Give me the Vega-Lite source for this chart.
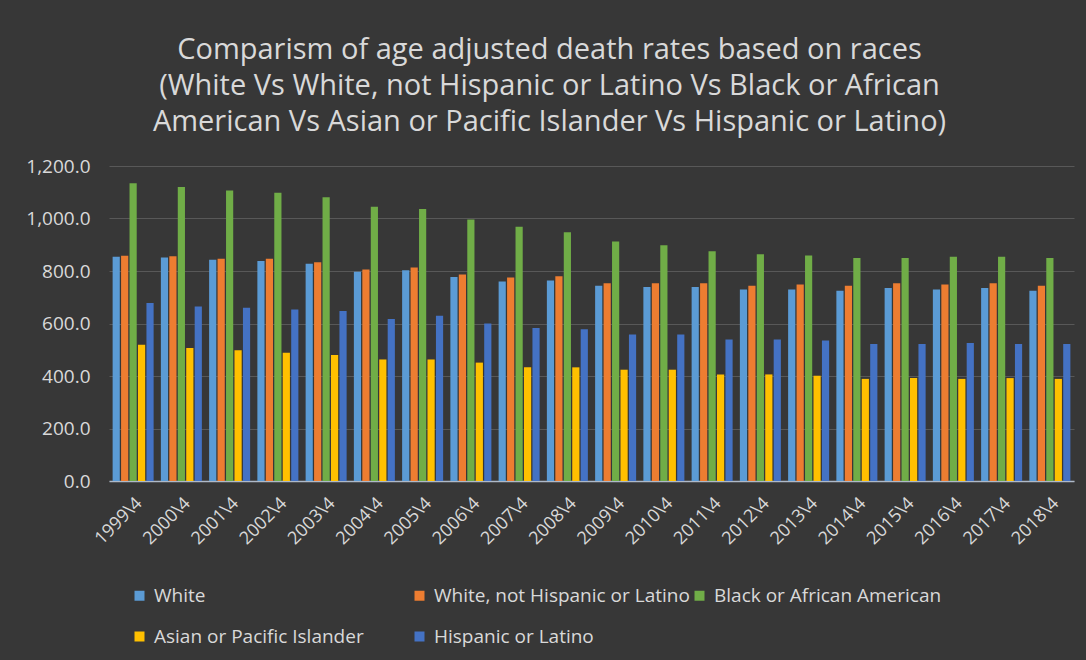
{
  "$schema": "https://vega.github.io/schema/vega-lite/v6.json",
  "width": 965,
  "height": 315,
  "autosize": {"type": "none"},
  "padding": {"left": 109, "top": 166, "right": 12, "bottom": 179},
  "background": "#373737",
  "title": {
    "text": ["Comparism of age adjusted death rates based on races", "(White Vs White, not Hispanic or Latino Vs Black or African", "American Vs Asian or Pacific Islander Vs Hispanic or Latino)"],
    "color": "#D9D9D9",
    "font": "Open Sans",
    "fontSize": 29,
    "fontWeight": "normal",
    "lineHeight": 36,
    "anchor": "middle",
    "dx": -42,
    "offset": 20
  },
  "config": {
    "view": {"stroke": null},
    "font": "Open Sans"
  },
  "data": {
    "values": [
      {"year": "1999\\4", "race": "White", "rate": 854},
      {"year": "1999\\4", "race": "White, not Hispanic or Latino", "rate": 858},
      {"year": "1999\\4", "race": "Black or African American", "rate": 1134},
      {"year": "1999\\4", "race": "Asian or Pacific Islander", "rate": 519},
      {"year": "1999\\4", "race": "Hispanic or Latino", "rate": 678},
      {"year": "2000\\4", "race": "White", "rate": 851},
      {"year": "2000\\4", "race": "White, not Hispanic or Latino", "rate": 856},
      {"year": "2000\\4", "race": "Black or African American", "rate": 1120},
      {"year": "2000\\4", "race": "Asian or Pacific Islander", "rate": 507},
      {"year": "2000\\4", "race": "Hispanic or Latino", "rate": 665},
      {"year": "2001\\4", "race": "White", "rate": 843},
      {"year": "2001\\4", "race": "White, not Hispanic or Latino", "rate": 847},
      {"year": "2001\\4", "race": "Black or African American", "rate": 1107},
      {"year": "2001\\4", "race": "Asian or Pacific Islander", "rate": 498},
      {"year": "2001\\4", "race": "Hispanic or Latino", "rate": 660},
      {"year": "2002\\4", "race": "White", "rate": 838},
      {"year": "2002\\4", "race": "White, not Hispanic or Latino", "rate": 847},
      {"year": "2002\\4", "race": "Black or African American", "rate": 1098},
      {"year": "2002\\4", "race": "Asian or Pacific Islander", "rate": 489},
      {"year": "2002\\4", "race": "Hispanic or Latino", "rate": 653},
      {"year": "2003\\4", "race": "White", "rate": 828},
      {"year": "2003\\4", "race": "White, not Hispanic or Latino", "rate": 833},
      {"year": "2003\\4", "race": "Black or African American", "rate": 1081},
      {"year": "2003\\4", "race": "Asian or Pacific Islander", "rate": 480},
      {"year": "2003\\4", "race": "Hispanic or Latino", "rate": 648},
      {"year": "2004\\4", "race": "White", "rate": 797},
      {"year": "2004\\4", "race": "White, not Hispanic or Latino", "rate": 806},
      {"year": "2004\\4", "race": "Black or African American", "rate": 1045},
      {"year": "2004\\4", "race": "Asian or Pacific Islander", "rate": 463},
      {"year": "2004\\4", "race": "Hispanic or Latino", "rate": 617},
      {"year": "2005\\4", "race": "White", "rate": 803},
      {"year": "2005\\4", "race": "White, not Hispanic or Latino", "rate": 813},
      {"year": "2005\\4", "race": "Black or African American", "rate": 1036},
      {"year": "2005\\4", "race": "Asian or Pacific Islander", "rate": 463},
      {"year": "2005\\4", "race": "Hispanic or Latino", "rate": 630},
      {"year": "2006\\4", "race": "White", "rate": 777},
      {"year": "2006\\4", "race": "White, not Hispanic or Latino", "rate": 787},
      {"year": "2006\\4", "race": "Black or African American", "rate": 996},
      {"year": "2006\\4", "race": "Asian or Pacific Islander", "rate": 451},
      {"year": "2006\\4", "race": "Hispanic or Latino", "rate": 600},
      {"year": "2007\\4", "race": "White", "rate": 760},
      {"year": "2007\\4", "race": "White, not Hispanic or Latino", "rate": 775},
      {"year": "2007\\4", "race": "Black or African American", "rate": 969},
      {"year": "2007\\4", "race": "Asian or Pacific Islander", "rate": 433},
      {"year": "2007\\4", "race": "Hispanic or Latino", "rate": 583},
      {"year": "2008\\4", "race": "White", "rate": 764},
      {"year": "2008\\4", "race": "White, not Hispanic or Latino", "rate": 780},
      {"year": "2008\\4", "race": "Black or African American", "rate": 948},
      {"year": "2008\\4", "race": "Asian or Pacific Islander", "rate": 433},
      {"year": "2008\\4", "race": "Hispanic or Latino", "rate": 578},
      {"year": "2009\\4", "race": "White", "rate": 744},
      {"year": "2009\\4", "race": "White, not Hispanic or Latino", "rate": 753},
      {"year": "2009\\4", "race": "Black or African American", "rate": 912},
      {"year": "2009\\4", "race": "Asian or Pacific Islander", "rate": 424},
      {"year": "2009\\4", "race": "Hispanic or Latino", "rate": 558},
      {"year": "2010\\4", "race": "White", "rate": 739},
      {"year": "2010\\4", "race": "White, not Hispanic or Latino", "rate": 753},
      {"year": "2010\\4", "race": "Black or African American", "rate": 898},
      {"year": "2010\\4", "race": "Asian or Pacific Islander", "rate": 424},
      {"year": "2010\\4", "race": "Hispanic or Latino", "rate": 558},
      {"year": "2011\\4", "race": "White", "rate": 739},
      {"year": "2011\\4", "race": "White, not Hispanic or Latino", "rate": 753},
      {"year": "2011\\4", "race": "Black or African American", "rate": 875},
      {"year": "2011\\4", "race": "Asian or Pacific Islander", "rate": 406},
      {"year": "2011\\4", "race": "Hispanic or Latino", "rate": 539},
      {"year": "2012\\4", "race": "White", "rate": 730},
      {"year": "2012\\4", "race": "White, not Hispanic or Latino", "rate": 744},
      {"year": "2012\\4", "race": "Black or African American", "rate": 864},
      {"year": "2012\\4", "race": "Asian or Pacific Islander", "rate": 406},
      {"year": "2012\\4", "race": "Hispanic or Latino", "rate": 539},
      {"year": "2013\\4", "race": "White", "rate": 730},
      {"year": "2013\\4", "race": "White, not Hispanic or Latino", "rate": 749},
      {"year": "2013\\4", "race": "Black or African American", "rate": 859},
      {"year": "2013\\4", "race": "Asian or Pacific Islander", "rate": 401},
      {"year": "2013\\4", "race": "Hispanic or Latino", "rate": 535},
      {"year": "2014\\4", "race": "White", "rate": 725},
      {"year": "2014\\4", "race": "White, not Hispanic or Latino", "rate": 744},
      {"year": "2014\\4", "race": "Black or African American", "rate": 850},
      {"year": "2014\\4", "race": "Asian or Pacific Islander", "rate": 389},
      {"year": "2014\\4", "race": "Hispanic or Latino", "rate": 522},
      {"year": "2015\\4", "race": "White", "rate": 735},
      {"year": "2015\\4", "race": "White, not Hispanic or Latino", "rate": 753},
      {"year": "2015\\4", "race": "Black or African American", "rate": 850},
      {"year": "2015\\4", "race": "Asian or Pacific Islander", "rate": 392},
      {"year": "2015\\4", "race": "Hispanic or Latino", "rate": 522},
      {"year": "2016\\4", "race": "White", "rate": 730},
      {"year": "2016\\4", "race": "White, not Hispanic or Latino", "rate": 749},
      {"year": "2016\\4", "race": "Black or African American", "rate": 854},
      {"year": "2016\\4", "race": "Asian or Pacific Islander", "rate": 389},
      {"year": "2016\\4", "race": "Hispanic or Latino", "rate": 526},
      {"year": "2017\\4", "race": "White", "rate": 735},
      {"year": "2017\\4", "race": "White, not Hispanic or Latino", "rate": 753},
      {"year": "2017\\4", "race": "Black or African American", "rate": 854},
      {"year": "2017\\4", "race": "Asian or Pacific Islander", "rate": 392},
      {"year": "2017\\4", "race": "Hispanic or Latino", "rate": 522},
      {"year": "2018\\4", "race": "White", "rate": 725},
      {"year": "2018\\4", "race": "White, not Hispanic or Latino", "rate": 744},
      {"year": "2018\\4", "race": "Black or African American", "rate": 850},
      {"year": "2018\\4", "race": "Asian or Pacific Islander", "rate": 389},
      {"year": "2018\\4", "race": "Hispanic or Latino", "rate": 522}
    ]
  },
  "mark": {"type": "bar"},
  "encoding": {
    "x": {
      "field": "year",
      "type": "nominal",
      "sort": null,
      "scale": {"paddingInner": 0.15, "paddingOuter": 0.075},
      "axis": {
        "title": null,
        "labelAngle": -45,
        "labelColor": "#D9D9D9",
        "labelFont": "Open Sans",
        "labelFontSize": 18,
        "labelPadding": 13,
        "ticks": false,
        "domainColor": "#AEB9C8",
        "domainWidth": 1.5,
        "grid": false
      }
    },
    "xOffset": {
      "field": "race",
      "type": "nominal",
      "scale": {"domain": ["White", "White, not Hispanic or Latino", "Black or African American", "Asian or Pacific Islander", "Hispanic or Latino"], "paddingInner": 0.15, "paddingOuter": 0}
    },
    "y": {
      "field": "rate",
      "type": "quantitative",
      "scale": {"domain": [0, 1200], "nice": false},
      "axis": {
        "title": null,
        "values": [0, 200, 400, 600, 800, 1000, 1200],
        "format": ",.1f",
        "labelColor": "#D9D9D9",
        "labelFont": "Open Sans",
        "labelFontSize": 19,
        "labelPadding": 19,
        "ticks": false,
        "domain": false,
        "gridColor": "#585858",
        "gridWidth": 1
      }
    },
    "color": {
      "field": "race",
      "type": "nominal",
      "scale": {
        "domain": ["White", "White, not Hispanic or Latino", "Black or African American", "Asian or Pacific Islander", "Hispanic or Latino"],
        "range": ["#5B9BD5", "#ED7D31", "#70AD47", "#FFC000", "#4472C4"]
      },
      "legend": {
        "title": null,
        "orient": "none",
        "legendX": 21,
        "legendY": 420,
        "direction": "horizontal",
        "columns": 3,
        "gridAlign": "all",
        "columnPadding": -3,
        "rowPadding": 21,
        "symbolType": "square",
        "symbolSize": 100,
        "symbolStrokeWidth": 0,
        "labelColor": "#D9D9D9",
        "labelFont": "Open Sans",
        "labelFontSize": 19,
        "labelOffset": 5,
        "labelLimit": 400
      }
    }
  }
}
